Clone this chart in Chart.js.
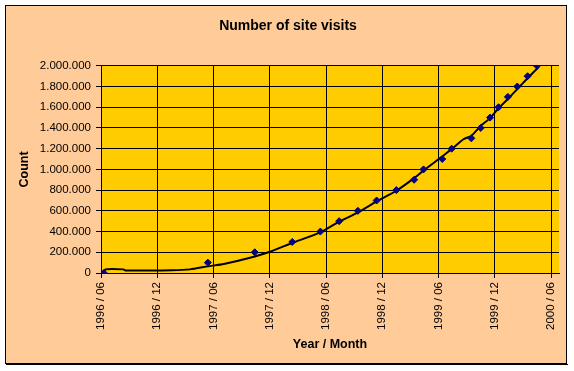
<!DOCTYPE html>
<html>
<head>
<meta charset="utf-8">
<script src="https://cdn.jsdelivr.net/npm/chart.js@4/dist/chart.umd.min.js"></script>
<style>
    html, body { margin: 0; padding: 0; background: #ffffff; }
    #wrap { width: 574px; height: 371px; }
</style>
</head>
<body>
<div id="wrap"><canvas id="myChart" width="574" height="371"></canvas></div>
<script>
// months counted from 1996 / 06
let visitMonth = [0.3, 11.4, 16.4, 20.4, 23.4, 25.4, 27.4, 29.4, 31.5, 33.4, 34.4, 36.4, 37.4, 39.5, 40.5, 41.5, 42.4, 43.4, 44.4, 45.5, 46.5]
let visitCount = [0, 100000, 200000, 300000, 400000, 500000, 600000, 700000, 800000, 900000, 1000000, 1100000, 1200000, 1300000, 1400000, 1500000, 1600000, 1700000, 1800000, 1900000, 2000000]

let trendMonth = [0.3, 0.45, 2.4, 2.6, 7.5, 9.5, 11.4, 13.1, 16.4, 18.0, 20.4, 23.4, 25.4, 27.4, 29.4, 31.5, 33.4, 34.4, 36.4, 37.4, 38.7, 39.5, 40.5, 41.5, 42.4, 43.4, 44.4, 45.5, 46.7]
let trendCount = [0, 35000, 35000, 25000, 27000, 35000, 64000, 87000, 160000, 205000, 290000, 392000, 495000, 585000, 691000, 794000, 916000, 990000, 1125000, 1196000, 1293000, 1325000, 1420000, 1495000, 1590000, 1680000, 1775000, 1880000, 1990000]

let tickMonths = [0, 6, 12, 18, 24, 30, 36, 42, 48]
let yMax = 2000000
let yStep = 200000

function monthLabel(m) {
    let total = 5 + m
    let year = 1996 + Math.floor(total / 12)
    let month = (total % 12) + 1
    return year + ' / ' + (month < 10 ? '0' + month : month)
}

function dotted(v) {
    return String(v).replace(/\B(?=(\d{3})+(?!\d))/g, '.')
}

const frame = {
    id: 'frame',
    beforeDraw(chart) {
        const c = chart.ctx
        const a = chart.chartArea
        c.save()
        c.fillStyle = '#ffffff'
        c.fillRect(0, 0, chart.width, chart.height)
        c.fillStyle = '#ffcc99'
        c.fillRect(5, 5, 562, 359)
        c.strokeStyle = '#000000'
        c.lineWidth = 1
        c.strokeRect(5.5, 5.5, 561, 358)
        c.fillStyle = '#000000'
        c.fillRect(6, 364, 562, 1)
        c.fillStyle = '#ffcc00'
        c.fillRect(a.left, a.top, a.right - a.left, a.bottom - a.top)
        c.restore()
    }
}

let visitPoints = visitMonth.map((m, i) => ({ x: m, y: visitCount[i] }))
let trendPoints = trendMonth.map((m, i) => ({ x: m, y: trendCount[i] }))

let ctx = document.getElementById('myChart').getContext('2d')

let chart = new Chart(ctx, {
    type: 'scatter',
    data: {
        datasets: [{
            label: 'Visits',
            data: visitPoints,
            pointStyle: 'rectRot',
            pointRadius: 3.5,
            backgroundColor: '#000080',
            borderColor: '#000080',
            borderWidth: 1,
            order: 0
        }, {
            label: 'Trend',
            type: 'line',
            data: trendPoints,
            borderColor: '#000000',
            borderWidth: 2,
            pointRadius: 0,
            tension: 0.2,
            fill: false,
            order: 1
        }]
    },
    options: {
        responsive: false,
        animation: false,
        layout: {
            padding: { left: 17, right: 15, top: 0, bottom: 19 }
        },
        plugins: {
            legend: { display: false },
            tooltip: { enabled: false },
            title: {
                display: true,
                text: 'Number of site visits',
                color: '#000000',
                font: { family: 'Liberation Sans, Arial, sans-serif', size: 14, weight: 'bold' },
                padding: { top: 18, bottom: 31 }
            }
        },
        scales: {
            x: {
                type: 'linear',
                min: 0,
                max: 48.85,
                afterBuildTicks: (scale) => {
                    scale.ticks = tickMonths.map(v => ({ value: v }))
                },
                afterFit: (scale) => { scale.height = 371 - 19 - 273 },
                grid: { color: '#000000', lineWidth: 1, tickLength: 5 },
                border: { color: '#000000', width: 1 },
                ticks: {
                    autoSkip: false,
                    maxRotation: 90,
                    minRotation: 90,
                    padding: 4,
                    color: '#000000',
                    font: { family: 'Liberation Sans, Arial, sans-serif', size: 11.5 },
                    callback: (v) => monthLabel(v)
                },
                title: {
                    display: true,
                    text: 'Year / Month',
                    color: '#000000',
                    padding: 0,
                    font: { family: 'Liberation Sans, Arial, sans-serif', size: 12.5, weight: 'bold' }
                }
            },
            y: {
                min: 0,
                max: yMax,
                afterFit: (scale) => { scale.width = 101 - 17 },
                grid: { color: '#000000', lineWidth: 1, tickLength: 5 },
                border: { color: '#000000', width: 1 },
                ticks: {
                    stepSize: yStep,
                    padding: 5,
                    color: '#000000',
                    font: { family: 'Liberation Sans, Arial, sans-serif', size: 11.5 },
                    callback: (v) => dotted(v)
                },
                title: {
                    display: true,
                    text: 'Count',
                    color: '#000000',
                    padding: 0,
                    font: { family: 'Liberation Sans, Arial, sans-serif', size: 12.5, weight: 'bold' }
                }
            }
        }
    },
    plugins: [frame]
})
</script>
</body>
</html>
